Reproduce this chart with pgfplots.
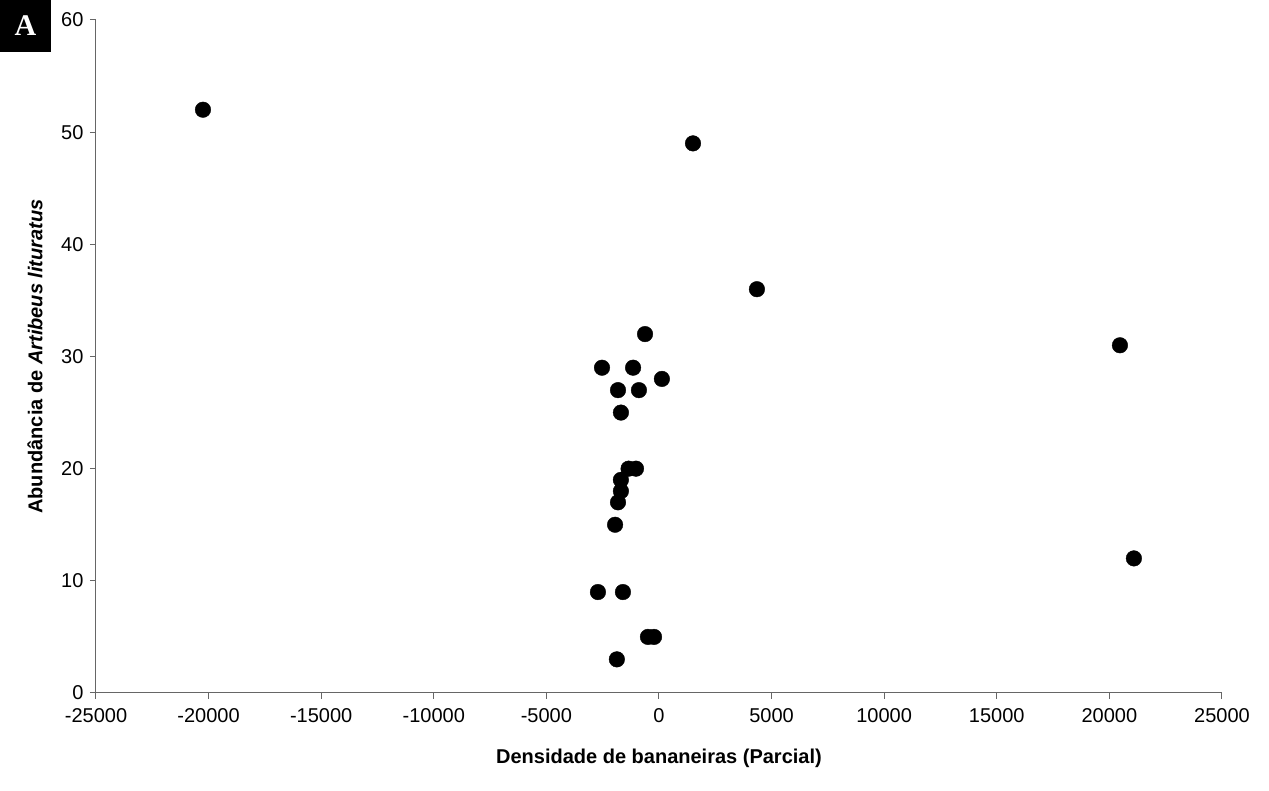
\documentclass[border=0pt]{standalone}
\usepackage{pgfplots}
\pgfplotsset{compat=1.18}
\usepackage{fontspec}
\setmainfont{Liberation Sans}
\newfontfamily\seriffont{Liberation Serif}
\begin{document}
\begin{tikzpicture}
\begin{axis}[
  at={(0,0)}, anchor=south west,
  scale only axis,
  width=1126pt, height=673pt,
  xmin=-25000, xmax=25000, ymin=0, ymax=60,
  scaled x ticks=false,
  axis x line*=bottom, axis y line*=left,
  axis line style={draw=gray!80!black, line width=1pt},
  tick style={draw=gray!80!black, line width=1pt},
  tick align=outside,
  major tick length=6pt,
  xtick={-25000,-20000,-15000,-10000,-5000,0,5000,10000,15000,20000,25000},
  xticklabels={-25000,-20000,-15000,-10000,-5000,0,5000,10000,15000,20000,25000},
  ytick={0,10,20,30,40,50,60},
  yticklabels={0,10,20,30,40,50,60},
  ticklabel style={font=\fontsize{20}{24}\selectfont},
  xticklabel style={yshift=-6pt},
  yticklabel style={xshift=-3pt},
  xlabel={\bfseries Densidade de bananeiras (Parcial)},
  ylabel={\bfseries Abundância de \textit{Artibeus lituratus}},
  label style={font=\fontsize{20}{24}\selectfont},
  xlabel style={at={(axis description cs:0.5,0)}, anchor=center, yshift=-65pt},
  ylabel style={at={(axis description cs:0,0.5)}, anchor=center, yshift=61pt},
  clip=false,
]
\addplot[only marks, mark=*, mark size=7.8pt, mark options={fill=black, draw=black}] coordinates {
(-20250,52)
(1510,49)
(4350,36)
(20470,31)
(21090,12)
(-620,32)
(-2530,29)
(-1150,29)
(130,28)
(-1820,27)
(-890,27)
(-1690,25)
(-1350,20)
(-1020,20)
(-1690,19)
(-1690,18)
(-1820,17)
(-1950,15)
(-2710,9)
(-1600,9)
(-490,5)
(-220,5)
(-1870,3)
};
\end{axis}
\fill[black] (-96pt,641pt) rectangle (-45pt,693pt);
\node[white, font=\seriffont\bfseries\fontsize{30}{30}\selectfont] at (-70.5pt,667pt) {A};
\path[use as bounding box] (-96pt,-98pt) rectangle (1173pt,693pt);
\end{tikzpicture}
\end{document}
